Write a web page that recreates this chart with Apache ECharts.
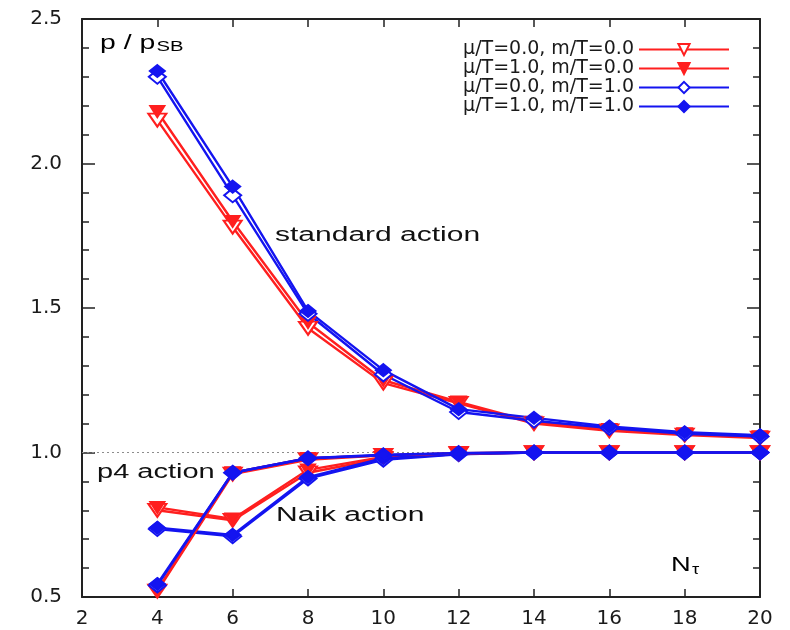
<!DOCTYPE html>
<html>
<head>
<meta charset="utf-8">
<script src="https://cdn.jsdelivr.net/npm/echarts@6/dist/echarts.min.js"></script>
<style>
  html, body { margin: 0; padding: 0; background: #ffffff; }
  #chart { width: 790px; height: 630px; }
</style>
</head>
<body>
<div id="chart"></div>
<script>
// Temporal lattice extent N_tau
const nTau = [4, 6, 8, 10, 12, 14, 16, 18, 20];

// Legend entries (chemical potential / mass combinations)
const variantNames = [
  'μ/T=0.0, m/T=0.0',
  'μ/T=1.0, m/T=0.0',
  'μ/T=0.0, m/T=1.0',
  'μ/T=1.0, m/T=1.0'
];

// p / p_SB for the standard action
const standard00 = [2.15, 1.78, 1.43, 1.24, 1.17, 1.10, 1.075, 1.06, 1.05];
const standard10 = [2.18, 1.80, 1.45, 1.25, 1.175, 1.105, 1.08, 1.065, 1.055];
const standard01 = [2.30, 1.89, 1.48, 1.27, 1.14, 1.11, 1.085, 1.065, 1.055];
const standard11 = [2.32, 1.92, 1.49, 1.285, 1.15, 1.12, 1.09, 1.07, 1.06];

// p / p_SB for the Naik action
const naik00 = [0.80, 0.765, 0.93, 0.98, 0.995, 1.0, 1.0, 1.0, 1.0];
const naik10 = [0.81, 0.77, 0.94, 0.985, 0.996, 1.0, 1.0, 1.0, 1.0];
const naik01 = [0.735, 0.71, 0.91, 0.975, 0.994, 1.0, 1.0, 1.0, 1.0];
const naik11 = [0.74, 0.715, 0.915, 0.98, 0.995, 1.0, 1.0, 1.0, 1.0];

// p / p_SB for the p4 action
const p4_00 = [0.52, 0.925, 0.975, 0.99, 0.997, 1.0, 1.0, 1.0, 1.0];
const p4_10 = [0.525, 0.93, 0.98, 0.99, 0.998, 1.0, 1.0, 1.0, 1.0];
const p4_01 = [0.54, 0.93, 0.98, 0.99, 0.998, 1.0, 1.0, 1.0, 1.0];
const p4_11 = [0.545, 0.93, 0.98, 0.992, 0.998, 1.0, 1.0, 1.0, 1.0];

// Axis ranges
const xRange = { min: 2, max: 20, interval: 2 };
const yRange = { min: 0.5, max: 2.5, interval: 0.5 };
const sbLimit = 1.0;

const RED = '#ff1f1f';
const BLUE = '#1414f0';

// Marker style per legend entry
const variantStyles = [
  { color: RED,  symbol: 'triangle', rotate: 180, size: [18, 13], filled: false },
  { color: RED,  symbol: 'triangle', rotate: 180, size: [14, 11], filled: true },
  { color: BLUE, symbol: 'diamond',  rotate: 0,   size: [17, 14], filled: false },
  { color: BLUE, symbol: 'diamond',  rotate: 0,   size: [15, 12], filled: true }
];

const groups = [
  [standard00, standard10, standard01, standard11],
  [naik00, naik10, naik01, naik11],
  [p4_00, p4_10, p4_01, p4_11]
];

const series = [];
groups.forEach(function (group, g) {
  group.forEach(function (values, i) {
    const st = variantStyles[i];
    const s = {
      type: 'line',
      name: variantNames[i],
      data: nTau.map(function (n, k) { return [n, values[k]]; }),
      symbol: st.symbol,
      symbolSize: st.size,
      symbolRotate: st.rotate,
      lineStyle: { color: st.color, width: 2.4 },
      itemStyle: {
        color: st.filled ? st.color : '#ffffff',
        borderColor: st.color,
        borderWidth: 2
      },
      emphasis: { disabled: true },
      animation: false,
      z: 3
    };
    if (g === 0 && i === 0) {
      s.markLine = {
        silent: true,
        symbol: 'none',
        label: { show: false },
        lineStyle: { color: '#8c8c8c', type: [2, 3], width: 1 },
        data: [{ yAxis: sbLimit }],
        z: 1
      };
    }
    series.push(s);
  });
});

const labelFont = { fontFamily: 'DejaVu Sans', fontSize: 20, color: '#1a1a1a' };
const axisLine = { show: true, onZero: false, lineStyle: { color: '#222', width: 2 } };

const chart = echarts.init(document.getElementById('chart'));
chart.setOption({
  backgroundColor: '#ffffff',
  animation: false,
  grid: { left: 82, right: 30, top: 19, bottom: 33 },
  legend: {
    orient: 'vertical',
    right: 55,
    top: 35,
    align: 'right',
    itemWidth: 90,
    itemHeight: 14,
    itemGap: 0,
    selectedMode: false,
    data: variantNames,
    textStyle: { fontFamily: 'DejaVu Sans', fontSize: 19, lineHeight: 19, color: '#1a1a1a' }
  },
  xAxis: [
    {
      type: 'value', position: 'bottom',
      min: xRange.min, max: xRange.max, interval: xRange.interval,
      axisLine: axisLine,
      axisTick: { show: true, inside: true, length: 8, lineStyle: { color: '#222', width: 1.5 } },
      axisLabel: Object.assign({ margin: 12 }, labelFont),
      splitLine: { show: false }
    },
    {
      type: 'value', position: 'top',
      min: xRange.min, max: xRange.max, interval: xRange.interval,
      axisLine: axisLine,
      axisTick: { show: true, inside: true, length: 8, lineStyle: { color: '#222', width: 1.5 } },
      axisLabel: { show: false },
      splitLine: { show: false }
    }
  ],
  yAxis: [
    {
      type: 'value', position: 'left',
      min: yRange.min, max: yRange.max, interval: yRange.interval,
      axisLine: axisLine,
      axisTick: { show: true, inside: true, length: 13, lineStyle: { color: '#222', width: 1.5 } },
      minorTick: { show: true, splitNumber: 5, length: 7, lineStyle: { color: '#222', width: 1.5 } },
      axisLabel: Object.assign({ margin: 20, formatter: function (v) { return v.toFixed(1); } }, labelFont),
      splitLine: { show: false }
    },
    {
      type: 'value', position: 'right',
      min: yRange.min, max: yRange.max, interval: yRange.interval,
      axisLine: axisLine,
      axisTick: { show: true, inside: true, length: 13, lineStyle: { color: '#222', width: 1.5 } },
      minorTick: { show: true, splitNumber: 5, length: 7, lineStyle: { color: '#222', width: 1.5 } },
      axisLabel: { show: false },
      splitLine: { show: false }
    }
  ],
  graphic: [
    {
      type: 'text', left: 100, top: 33, scaleX: 1.35,
      style: {
        text: '{a|p / p}{s|SB}',
        rich: {
          a: { fontFamily: 'Liberation Sans', fontSize: 21, color: '#111', verticalAlign: 'bottom' },
          s: { fontFamily: 'Liberation Sans', fontSize: 15, color: '#111', padding: [8, 0, 0, 1] }
        }
      }
    },
    {
      type: 'text', left: 275, top: 225, scaleX: 1.5,
      style: { text: 'standard action', fontFamily: 'Liberation Sans', fontSize: 20, fill: '#111' }
    },
    {
      type: 'text', left: 97, top: 462, scaleX: 1.45,
      style: { text: 'p4 action', fontFamily: 'Liberation Sans', fontSize: 20, fill: '#111' }
    },
    {
      type: 'text', left: 276, top: 505, scaleX: 1.5,
      style: { text: 'Naik action', fontFamily: 'Liberation Sans', fontSize: 20, fill: '#111' }
    },
    {
      type: 'text', left: 671, top: 555, scaleX: 1.3,
      style: {
        text: '{a|N}{s|τ}',
        rich: {
          a: { fontFamily: 'Liberation Sans', fontSize: 21, color: '#111' },
          s: { fontFamily: 'Liberation Sans', fontSize: 14, color: '#111', padding: [10, 0, 0, 1] }
        }
      }
    }
  ],
  series: series
});
</script>
</body>
</html>
